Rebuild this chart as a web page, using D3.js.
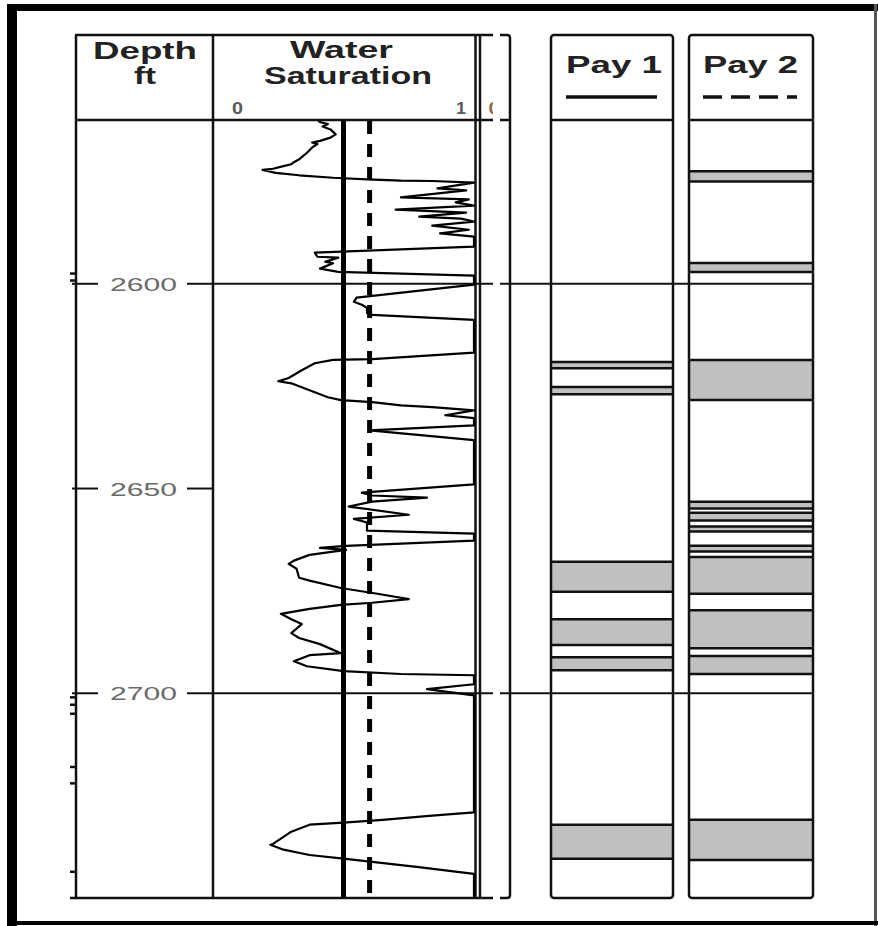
<!DOCTYPE html>
<html><head><meta charset="utf-8">
<script src="https://cdn.jsdelivr.net/npm/d3@7"></script>
<style>html,body{margin:0;padding:0;background:#fff;} svg{display:block;}</style>
</head><body>
<svg id="c" width="878" height="926"></svg>
<script>
// ---- data ----
const depthRange = [2560, 2750];
const depthTicks = [2600, 2650, 2700];
const gridDepths = [2600, 2700];
const minorTickDepths = [2597.5, 2599.2, 2701.0, 2702.8, 2705.0, 2718.0, 2722.0, 2743.6, 2750];
const swDepth = [2560.0, 2560.5, 2561.0, 2561.6, 2562.3, 2563.5, 2564.3, 2565.1, 2565.5, 2565.9, 2566.7, 2568.0, 2569.6, 2570.3, 2570.8, 2571.25, 2571.9, 2572.2, 2572.9, 2573.5, 2574.1, 2574.5, 2574.8, 2574.9, 2575.3,
  2576.7, 2577.2, 2578.9, 2579.4, 2580.1, 2580.9, 2581.9, 2582.6, 2583.6, 2584.1, 2584.8, 2585.8, 2586.8, 2587.7, 2588.5, 2590.9, 2592.4, 2593.4, 2593.6, 2594.6, 2595.0, 2596.3, 2597.1, 2598.0, 2600.2,
  2603.4, 2604.4, 2605.1, 2605.9, 2607.1, 2607.6, 2608.8, 2616.8, 2618.4, 2618.6, 2619.4, 2621.1, 2623.0, 2623.8, 2624.3, 2626.0, 2627.7, 2628.4, 2628.9, 2629.7, 2630.1, 2630.9, 2632.1, 2632.8, 2634.6, 2635.8, 2638.2, 2649.0,
  2651.0, 2651.7, 2652.2, 2653.2, 2654.4, 2656.4, 2657.4, 2658.3, 2660.3, 2661.0, 2662.7, 2664.0, 2664.5, 2665.0, 2666.2, 2667.6, 2668.4, 2669.6, 2671.8, 2672.5, 2674.3, 2675.7, 2677.0, 2677.9, 2678.4, 2679.4, 2680.6, 2681.9, 2683.1, 2685.3, 2686.5, 2688.0, 2690.2, 2690.7, 2692.2, 2693.4, 2694.6, 2695.3, 2695.6, 2697.8, 2699.0, 2700.5,
  2729.1, 2729.9, 2730.9, 2731.6, 2732.1, 2733.8, 2736.8, 2737.0, 2738.2, 2739.5, 2740.4, 2741.2, 2742.4, 2744.1, 2750.0];
const swValue = [0.40, 0.41, 0.44, 0.42, 0.45, 0.47, 0.45, 0.41, 0.38, 0.40, 0.38, 0.36, 0.33, 0.31, 0.30, 0.27, 0.23, 0.19, 0.24, 0.33, 0.46, 0.59, 0.72, 0.84, 1.00,
  0.86, 0.97, 0.72, 0.98, 0.93, 1.00, 0.70, 0.97, 0.79, 0.95, 1.00, 0.84, 0.98, 0.87, 1.00, 1.00, 0.39, 0.40, 0.48, 0.43, 0.46, 0.41, 0.48, 1.00, 1.00,
  0.55, 0.54, 0.57, 0.59, 0.59, 0.61, 1.00, 1.00, 0.61, 0.46, 0.39, 0.34, 0.29, 0.25, 0.30, 0.37, 0.44, 0.49, 0.61, 0.72, 0.84, 1.00, 0.89, 1.00, 1.00, 0.60, 1.00, 1.00,
  0.57, 0.61, 0.82, 0.61, 0.52, 0.75, 0.54, 0.59, 0.59, 1.00, 1.00, 0.51, 0.41, 0.51, 0.37, 0.31, 0.29, 0.32, 0.33, 0.37, 0.49, 0.63, 0.75, 0.61, 0.49, 0.37, 0.26, 0.30, 0.34, 0.30, 0.33, 0.41, 0.49, 0.37, 0.31, 0.36, 0.50, 0.72, 1.00, 1.00, 0.82, 1.00,
  1.00, 0.84, 0.65, 0.50, 0.37, 0.30, 0.23, 0.22, 0.27, 0.37, 0.50, 0.61, 0.78, 1.00, 1.00];
const swScaleLabels = ["0", "1"];
const cutoffs = [0.5, 0.6];   // Pay 1 (solid), Pay 2 (dashed)
const pay1Top  = [2619.1, 2625.2, 2667.9, 2681.9, 2691.2, 2732.1];
const pay1Base = [2620.6, 2627.0, 2675.2, 2688.2, 2694.4, 2740.4];
const pay2Top  = [2572.5, 2594.9, 2618.6, 2653.2, 2655.9, 2659.3, 2664.0, 2666.7, 2679.7, 2690.9, 2730.9];
const pay2Base = [2575.0, 2597.1, 2628.4, 2654.9, 2657.8, 2660.5, 2665.4, 2675.7, 2689.0, 2695.3, 2740.7];
const headers = {depth: ["Depth", "ft"], sw: ["Water", "Saturation"], pay: ["Pay 1", "Pay 2"]};

// ---- layout ----
const svg = d3.select("#c");
const TOP = 35, HB = 120, BOT = 898;
const y = d3.scaleLinear().domain(depthRange).range([HB, BOT]);
const x = d3.scaleLinear().domain([0, 1]).range([213, 474]);
const INK = "#111";
const payCols = [{x0: 551, x1: 673, tops: pay1Top, bases: pay1Base}, {x0: 689, x1: 813, tops: pay2Top, bases: pay2Base}];

svg.append("rect").attr("width", 878).attr("height", 926).attr("fill", "#fff");

// outer frame
svg.append("rect").attr("x", 7).attr("y", 4).attr("width", 10).attr("height", 922).attr("fill", "#000");
svg.append("rect").attr("x", 7).attr("y", 4).attr("width", 871).attr("height", 7).attr("fill", "#000");
svg.append("rect").attr("x", 874).attr("y", 4).attr("width", 3).attr("height", 922).attr("fill", "#555");
svg.append("rect").attr("x", 7).attr("y", 921).attr("width", 871).attr("height", 4).attr("fill", "#000");

function line(x1, y1, x2, y2, w, col, dash) {
  const l = svg.append("line").attr("x1", x1).attr("y1", y1).attr("x2", x2).attr("y2", y2)
    .attr("stroke", col || INK).attr("stroke-width", w || 2.5);
  if (dash) l.attr("stroke-dasharray", dash);
  return l;
}

// pay columns
payCols.forEach(c => {
  c.tops.forEach((t, i) => {
    svg.append("rect").attr("x", c.x0).attr("y", y(t)).attr("width", c.x1 - c.x0)
      .attr("height", y(c.bases[i]) - y(t)).attr("fill", "#c0c0c0");
    line(c.x0, y(t), c.x1, y(t), 2.5);
    line(c.x0, y(c.bases[i]), c.x1, y(c.bases[i]), 2.5);
  });
  svg.append("rect").attr("x", c.x0).attr("y", TOP).attr("width", c.x1 - c.x0).attr("height", BOT - TOP)
    .attr("rx", 3).attr("fill", "none").attr("stroke", INK).attr("stroke-width", 2.5);
  line(c.x0, HB, c.x1, HB, 2.5);
});

// main tracks frame
[76, 213, 475.5, 480].forEach(xx => line(xx, TOP, xx, BOT, 2.5));
[TOP, HB, BOT].forEach(yy => line(75, yy, 493, yy, 2.5));
// clipped bracket (edge of the next track)
svg.append("path").attr("d", `M500,${TOP} H507 Q510,${TOP} 510,${TOP + 3} V${BOT - 3} Q510,${BOT} 507,${BOT} H500`)
  .attr("fill", "none").attr("stroke", INK).attr("stroke-width", 2.5);
line(500, HB, 510, HB, 2.5);

// gridlines & depth ticks
depthTicks.forEach(d => {
  line(72, y(d), 98, y(d), 2);
  line(187, y(d), 213, y(d), 2);
  svg.append("text").attr("x", 110).attr("y", y(d) + 7).attr("textLength", 67).attr("lengthAdjust", "spacingAndGlyphs")
    .attr("font-family", "Liberation Sans, Arial, sans-serif").attr("font-size", 19).attr("fill", "#6a6a6a").text(d);
});
gridDepths.forEach(d => {
  line(213, y(d), 493, y(d), 2);
  line(500, y(d), 813, y(d), 2);
});
minorTickDepths.forEach(d => line(70, y(d), 76, y(d), 2.5));

// Sw curve
const clip = svg.append("clipPath").attr("id", "swclip");
clip.append("rect").attr("x", 212).attr("y", HB).attr("width", 266).attr("height", BOT - HB);
const pts = swDepth.map((d, i) => [swValue[i], d]);
svg.append("path").attr("clip-path", "url(#swclip)")
  .attr("d", d3.line().x(p => x(p[0])).y(p => y(p[1])).curve(d3.curveLinear)(pts))
  .attr("fill", "none").attr("stroke", "#000").attr("stroke-width", 2.2).attr("stroke-linejoin", "round");

// cutoff lines
line(x(cutoffs[0]), HB, x(cutoffs[0]), BOT, 5, "#000");
line(x(cutoffs[1]), HB + 1, x(cutoffs[1]), BOT, 5, "#000", "13,10");

// header text
const F = "Liberation Sans, Arial, sans-serif";
function txt(s, xx, yy, len, size, col, weight) {
  return svg.append("text").attr("x", xx).attr("y", yy).attr("textLength", len).attr("lengthAdjust", "spacingAndGlyphs")
    .attr("font-family", F).attr("font-size", size).attr("font-weight", weight || "bold").attr("fill", col || "#222").text(s);
}
txt(headers.depth[0], 93, 59, 104, 23);
txt(headers.depth[1], 134, 84, 22, 23);
txt(headers.sw[0], 290, 58, 103, 23);
txt(headers.sw[1], 264, 84, 168, 23);
txt(swScaleLabels[0], 232, 114, 11, 17, "#5a5a5a");
txt(swScaleLabels[1], 456, 114, 10, 17, "#5a5a5a");
// clipped scale label of next track
const clip2 = svg.append("clipPath").attr("id", "nclip");
clip2.append("rect").attr("x", 488).attr("y", 95).attr("width", 5).attr("height", 25);
txt("0", 488.5, 114, 11, 17, "#8a6a40").attr("clip-path", "url(#nclip)");
txt(headers.pay[0], 566, 73, 96, 23);
txt(headers.pay[1], 703, 73, 95, 23);
// legend lines
line(566, 97, 657, 97, 3.5, "#111");
line(703, 97, 797, 97, 3.5, "#111", "19,9");
</script>
</body></html>
